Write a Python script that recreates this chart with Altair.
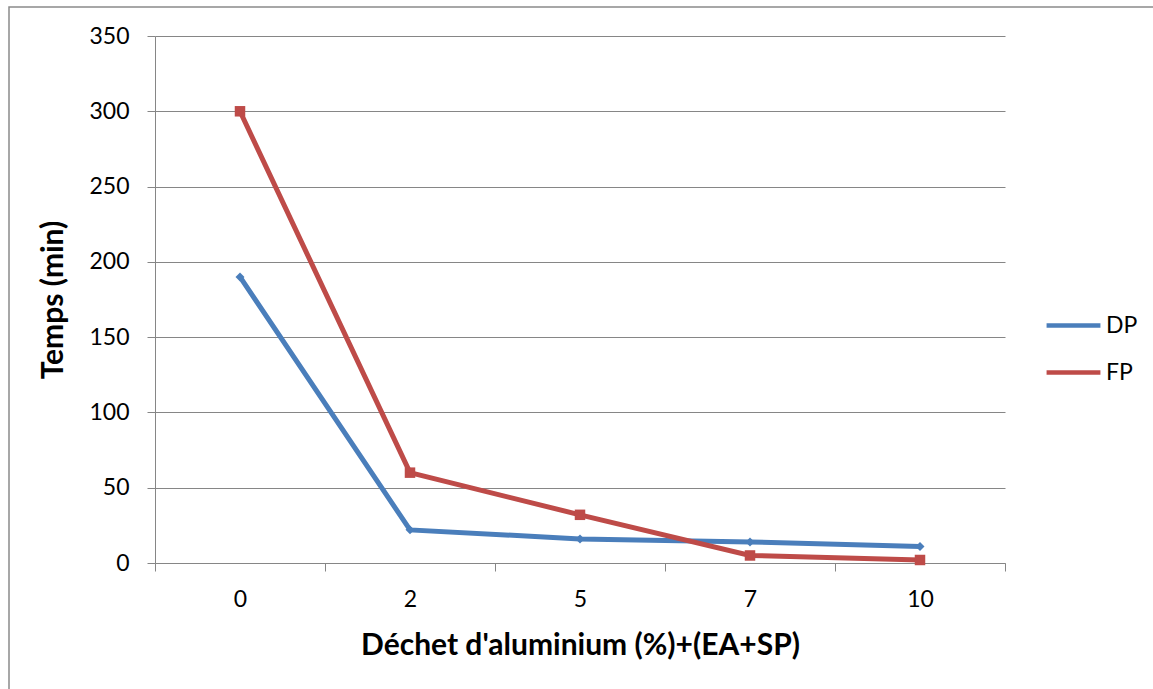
import altair as alt
import pandas as pd

# Aluminium waste content (%), shown as categories
dechet = ["0", "2", "5", "7", "10"]
# Setting times in minutes
dp = [190, 22, 16, 14, 11]   # début de prise
fp = [300, 60, 32, 5, 2]     # fin de prise

series = ["DP", "FP"]
colors = ["#4A7EBB", "#BE4B48"]
markers = ["diamond", "square"]
marker_sizes = [80, 110]

rows = []
for name, vals, col, shp, sz in zip(series, [dp, fp], colors, markers, marker_sizes):
    for d, v in zip(dechet, vals):
        rows.append({"dechet": d, "temps": v, "serie": name,
                     "couleur": col, "forme": shp, "taille": sz})
df = pd.DataFrame(rows)

FONT = "Lato"
GRID = "#868686"

x = alt.X(
    "dechet:O",
    sort=dechet,
    scale=alt.Scale(paddingInner=0, paddingOuter=0),
    axis=alt.Axis(
        title="Déchet d'aluminium (%)+(EA+SP)",
        labelAngle=0,
        tickBand="extent",
        grid=False,
        domainColor=GRID,
        tickColor=GRID,
        tickSize=8,
        labelPadding=17,
        titlePadding=19,
    ),
)
y = alt.Y(
    "temps:Q",
    scale=alt.Scale(domain=[0, 350], nice=False),
    axis=alt.Axis(
        title="Temps (min)",
        values=list(range(0, 351, 50)),
        gridColor=GRID,
        domainColor=GRID,
        tickColor=GRID,
        tickSize=8,
        labelPadding=18,
        titlePadding=20,
    ),
)
color = alt.Color(
    "serie:N",
    scale=alt.Scale(domain=series, range=colors),
    legend=alt.Legend(
        title=None,
        orient="none",
        legendX=889,
        legendY=260,
        symbolType="stroke",
        symbolSize=2900,
        symbolStrokeWidth=4.5,
        rowPadding=5,
        labelFontSize=23,
        labelOffset=3,
        labelFont=FONT,
        labelColor="#000000",
    ),
)

lines = alt.Chart(df).mark_line(strokeWidth=5).encode(x=x, y=y, color=color)
points = alt.Chart(df).mark_point(filled=True, opacity=1).encode(
    x=x,
    y=y,
    color=alt.Color("couleur:N", scale=None),
    shape=alt.Shape("forme:N", scale=None),
    size=alt.Size("taille:Q", scale=None),
)

# Outer chart frame
frame = alt.Chart(pd.DataFrame({"k": [0]})).mark_rect(
    fill=None, stroke="#8a8a8a", strokeWidth=1.5
).encode(
    x=alt.value(-146), x2=alt.value(1010), y=alt.value(-29), y2=alt.value(670)
)

chart = (
    alt.layer(frame, lines, points)
    .properties(
        width=850,
        height=527,
        padding={"left": 155, "top": 36, "right": 148, "bottom": 126},
        autosize=alt.AutoSizeParams(type="none"),
        background="white",
    )
    .configure_view(stroke=None)
    .configure_axis(
        labelFont=FONT,
        labelFontSize=23,
        labelColor="#000000",
        titleFont=FONT,
        titleFontSize=30,
        titleFontWeight="bold",
        titleColor="#000000",
    )
)

chart.save("out.html", embed_options={"renderer": "svg", "actions": False})
